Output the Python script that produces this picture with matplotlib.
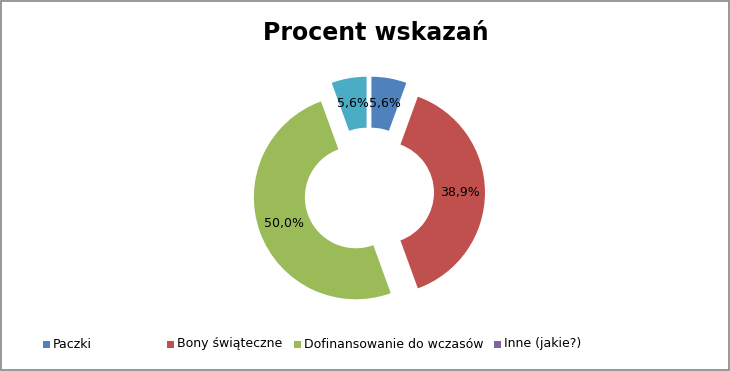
import matplotlib
matplotlib.use("Agg")
import matplotlib.pyplot as plt
from matplotlib.patches import Rectangle

title = "Procent wskazań"
categories = ["Paczki", "Bony świąteczne", "Dofinansowanie do wczasów", "Inne (jakie?)", ""]
counts = [1, 7, 9, 0, 1]
colors = ["#4F81BD", "#C0504D", "#9BBB59", "#8064A2", "#4BACC6"]
legend_count = 4

W, H = 730, 371
fig = plt.figure(figsize=(W / 100, H / 100), dpi=100)
fig.patch.set_facecolor("white")

# axes in pixel units: donut center at (369, 192.5 from top), R=102 px
R_px = 102.0
cx, cy = 369.0, H - 192.5
half = 150.0
ax = fig.add_axes([(cx - half) / W, (cy - half) / H, 2 * half / W, 2 * half / H])
ax.set_xlim(-half / R_px, half / R_px)
ax.set_ylim(-half / R_px, half / R_px)
ax.set_aspect("equal")
ax.axis("off")

total = sum(counts)

def fmt(p):
    if p < 0.05:
        return ""
    return f"{p:.1f}%".replace(".", ",")

explode = [0.137] * len(counts)
wedges, texts, autotexts = ax.pie(
    counts, colors=colors, startangle=90, counterclock=False,
    explode=explode, radius=1.0, autopct=fmt, pctdistance=0.75,
    wedgeprops=dict(width=0.5, linewidth=0), textprops=dict(fontsize=9, color="black"),
    normalize=True,
)
ax.set_xlim(-half / R_px, half / R_px)
ax.set_ylim(-half / R_px, half / R_px)

fig.text(376 / W, 1 - 33 / H, title, ha="center", va="center", fontsize=17, fontweight="bold")

# legend (manual layout, Excel style)
marker_x = [43, 167, 294, 494]
ly = H - 344
for i in range(legend_count):
    fig.add_artist(Rectangle(((marker_x[i]) / W, (ly - 3.5) / H), 7 / W, 7 / H,
                             transform=fig.transFigure, facecolor=colors[i], edgecolor="none"))
    fig.text((marker_x[i] + 10) / W, ly / H, categories[i], ha="left", va="center", fontsize=9)

# border
fig.add_artist(Rectangle((0.5 / W, 1.5 / H), (W - 2) / W, (H - 2.5) / H, transform=fig.transFigure,
                         facecolor="none", edgecolor="#868686", linewidth=1.2))

fig.savefig("out.png", dpi=100, facecolor="white")
